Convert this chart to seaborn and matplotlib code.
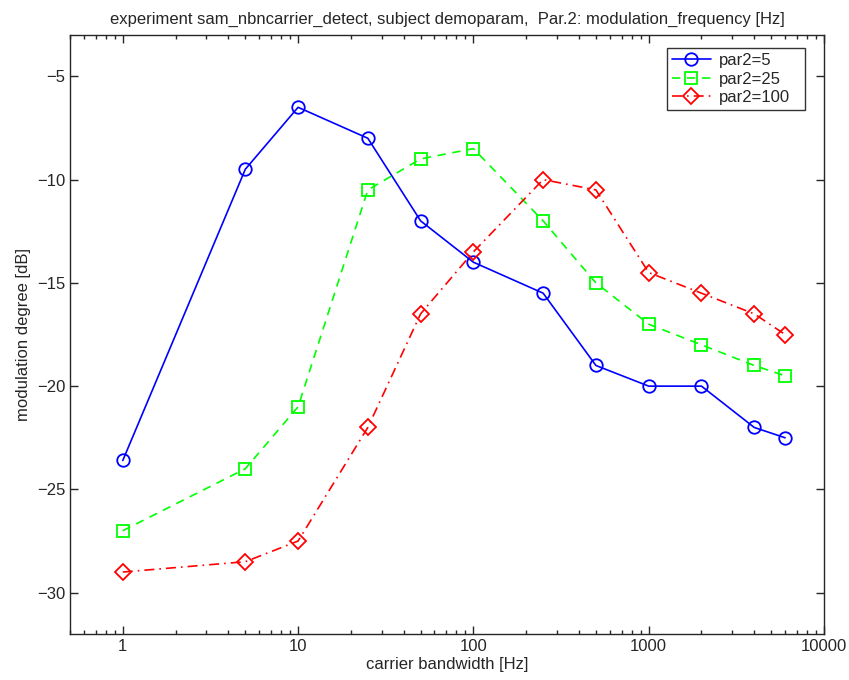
import matplotlib
matplotlib.use("Agg")
import matplotlib.pyplot as plt
import seaborn as sns
import numpy as np
import pandas as pd

bandwidth = [1, 5, 10, 25, 50, 100, 250, 500, 1000, 2000, 4000, 6000]
par2_5 = [-23.6, -9.5, -6.5, -8, -12, -14, -15.5, -19, -20, -20, -22, -22.5]
par2_25 = [-27, -24, -21, -10.5, -9, -8.5, -12, -15, -17, -18, -19, -19.5]
par2_100 = [-29, -28.5, -27.5, -22, -16.5, -13.5, -10, -10.5, -14.5, -15.5, -16.5, -17.5]
labels = ["par2=5", "par2=25", "par2=100"]

sns.set_style("ticks")
plt.rcParams['font.family'] = ['Liberation Sans', 'DejaVu Sans']
plt.rcParams['xtick.direction'] = 'in'
plt.rcParams['ytick.direction'] = 'in'

fig = plt.figure(figsize=(8.49, 6.80), dpi=100)
ax = fig.add_axes([70/849, 1-634/680, (824-70)/849, (634-35)/680])

df = pd.DataFrame({
    "bw": bandwidth * 3,
    "val": par2_5 + par2_25 + par2_100,
    "series": [labels[0]]*len(bandwidth) + [labels[1]]*len(bandwidth) + [labels[2]]*len(bandwidth),
})

styles = {
    labels[0]: dict(color="#0000ff", ls="-", marker="o", ms=9),
    labels[1]: dict(color="#00ff00", ls=(0, (5, 4)), marker="s", ms=8),
    labels[2]: dict(color="#ff0000", ls=(0, (6, 3, 1, 3)), marker="D", ms=8),
}
for lab in labels:
    st = styles[lab]
    sub = df[df.series == lab]
    sns.lineplot(data=sub, x="bw", y="val", ax=ax, color=st["color"], linestyle=st["ls"],
                 marker=st["marker"], markersize=st["ms"], markerfacecolor="none",
                 markeredgecolor=st["color"], markeredgewidth=1.3, linewidth=1.2,
                 label=lab, estimator=None, sort=False)

ax.set_xscale("log")
ax.set_xlim(0.5, 10000)
ax.set_ylim(-32, -3)
ax.set_xticks([1, 10, 100, 1000, 10000])
ax.set_xticklabels(["1", "10", "100", "1000", "10000"])
ax.set_yticks([-30, -25, -20, -15, -10, -5])
ax.set_yticklabels(["\u221230", "\u221225", "\u221220", "\u221215", "\u221210", "\u22125"])
ax.tick_params(which="both", top=True, right=True, labelsize=12, length=6, width=1)
ax.tick_params(which="minor", length=3)
for s in ax.spines.values():
    s.set_linewidth(1.0)
    s.set_visible(True)

ax.set_xlabel("carrier bandwidth [Hz]", fontsize=12, labelpad=2)
ax.set_ylabel("modulation degree [dB]", fontsize=12)
ax.set_title("experiment sam_nbncarrier_detect, subject demoparam,  Par.2: modulation_frequency [Hz]",
             fontsize=12, pad=8)

leg = ax.legend(loc="upper left", bbox_to_anchor=(0.792, 0.0, 0.183, 0.978), mode="expand",
                fontsize=12, frameon=True, fancybox=False, edgecolor="black",
                borderaxespad=0.0, handlelength=2.3, handletextpad=0.5,
                labelspacing=0.2, borderpad=0.3)
leg.get_frame().set_linewidth(1.0)

fig.savefig("out.png", dpi=100)
